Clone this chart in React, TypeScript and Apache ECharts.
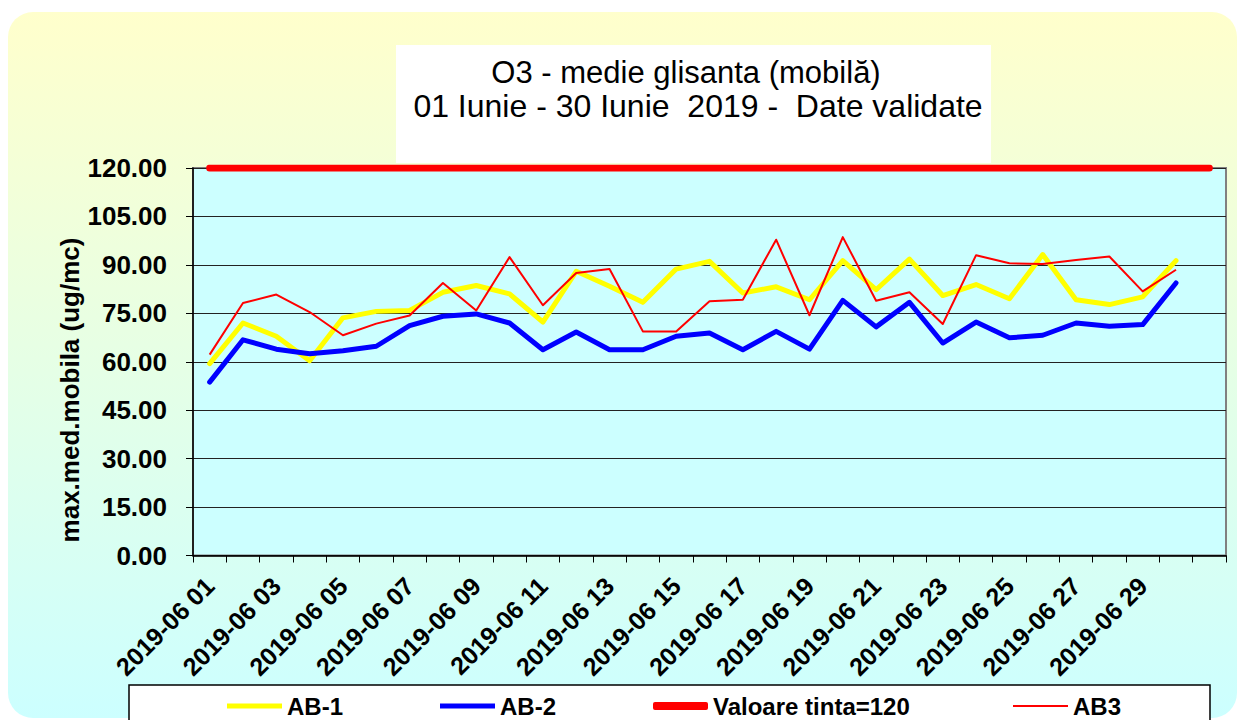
import React, { useEffect, useRef } from "react";
import * as echarts from "echarts";

const categories = [
  "2019-06 01", "2019-06 02", "2019-06 03", "2019-06 04", "2019-06 05",
  "2019-06 06", "2019-06 07", "2019-06 08", "2019-06 09", "2019-06 10",
  "2019-06 11", "2019-06 12", "2019-06 13", "2019-06 14", "2019-06 15",
  "2019-06 16", "2019-06 17", "2019-06 18", "2019-06 19", "2019-06 20",
  "2019-06 21", "2019-06 22", "2019-06 23", "2019-06 24", "2019-06 25",
  "2019-06 26", "2019-06 27", "2019-06 28", "2019-06 29", "2019-06 30",
  "",
];

const ab1 = [59.4, 72.0, 67.9, 60.3, 73.6, 75.6, 75.9, 81.5, 83.6, 81.0, 72.3, 88.0, 83.4, 78.4, 88.7, 91.1, 81.3, 83.2, 79.2, 91.3, 82.3, 91.8, 80.5, 83.9, 79.5, 93.2, 79.2, 77.7, 80.1, 91.3];
const ab2 = [53.7, 66.8, 63.9, 62.5, 63.4, 64.8, 71.2, 74.1, 74.8, 72.0, 63.7, 69.2, 63.7, 63.7, 67.9, 68.9, 63.7, 69.4, 63.9, 79.0, 70.8, 78.4, 65.8, 72.3, 67.4, 68.2, 72.0, 71.0, 71.5, 84.4];
const ab3 = [62.2, 78.2, 80.8, 75.4, 68.2, 71.8, 74.3, 84.4, 75.9, 92.4, 77.5, 87.5, 88.7, 69.4, 69.4, 78.7, 79.2, 97.8, 74.4, 98.6, 78.9, 81.5, 71.7, 93.0, 90.5, 90.3, 91.5, 92.6, 81.8, 88.5];
const target = [120, 120, 120, 120, 120, 120, 120, 120, 120, 120, 120, 120, 120, 120, 120, 120, 120, 120, 120, 120, 120, 120, 120, 120, 120, 120, 120, 120, 120, 120, 120];

const titleLine1 = "O3 - medie glisanta (mobilă)";
const titleLine2 = "01 Iunie - 30 Iunie  2019 -  Date validate";
const yAxisName = "max.med.mobila (ug/mc)";

const FONT = "'Liberation Sans', Arial, sans-serif";

export default function App() {
  const ref = useRef<HTMLDivElement>(null);
  useEffect(() => {
    if (!ref.current) return;
    const chart = echarts.init(ref.current, undefined, { renderer: "svg" });
    const legendText = { fontFamily: FONT, fontWeight: "bold" as const, fontSize: 24, color: "#000" };
    const mkLegend = (name: string, left: number, h: number, icon: string) => ({
      data: [name],
      left,
      top: 694,
      padding: 0,
      icon,
      itemWidth: 55,
      itemHeight: h,
      textStyle: legendText,
      selectedMode: false,
    });
    chart.setOption({
      animation: false,
      textStyle: { fontFamily: FONT },
      graphic: [
        {
          type: "rect",
          z: -10,
          shape: { x: 8, y: 12, width: 1229, height: 706, r: 25 },
          style: {
            fill: new echarts.graphic.LinearGradient(0, 0, 0, 1, [
              { offset: 0, color: "#ffffcc" },
              { offset: 1, color: "#ccffff" },
            ]),
          },
        },
        {
          type: "rect",
          z: -5,
          shape: { x: 396, y: 45, width: 595, height: 118 },
          style: { fill: "#ffffff" },
        },
        {
          type: "text",
          x: 686,
          y: 72,
          style: { text: titleLine1, font: `31px ${FONT}`, fill: "#000", textAlign: "center", textVerticalAlign: "middle" },
        },
        {
          type: "text",
          x: 698,
          y: 106,
          style: { text: titleLine2, font: `32px ${FONT}`, fill: "#000", textAlign: "center", textVerticalAlign: "middle" },
        },
        {
          type: "text",
          x: 70,
          y: 390,
          rotation: Math.PI / 2,
          style: { text: yAxisName, font: `bold 26px ${FONT}`, fill: "#000", textAlign: "center", textVerticalAlign: "middle" },
        },
        {
          type: "rect",
          z: -5,
          shape: { x: 129, y: 685, width: 1081, height: 50 },
          style: { fill: "#ffffff", stroke: "#000000", lineWidth: 1.5 },
        },
      ],
      legend: [
        mkLegend("AB-1", 227, 5, "rect"),
        mkLegend("AB-2", 440, 5, "rect"),
        mkLegend("Valoare tinta=120", 653, 8, "roundRect"),
        mkLegend("AB3", 1013, 2, "rect"),
      ],
      grid: {
        left: 193,
        top: 168,
        width: 1033,
        height: 387.5,
        show: true,
        backgroundColor: "#ccffff",
        borderColor: "#808080",
        borderWidth: 2,
        containLabel: false,
      },
      xAxis: {
        type: "category",
        data: categories,
        boundaryGap: true,
        axisLine: { show: true, lineStyle: { color: "#000", width: 1.5 } },
        axisTick: { show: true, interval: 0, length: 7, lineStyle: { color: "#000" } },
        axisLabel: {
          interval: 1,
          rotate: 45,
          margin: 26,
          fontFamily: FONT,
          fontWeight: "bold",
          fontSize: 25,
          color: "#000",
        },
        splitLine: { show: false },
      },
      yAxis: {
        type: "value",
        min: 0,
        max: 120,
        interval: 15,
        axisLine: { show: true, lineStyle: { color: "#000", width: 1.5 } },
        axisTick: { show: true, length: 7, lineStyle: { color: "#000" } },
        axisLabel: {
          margin: 26,
          fontFamily: FONT,
          fontWeight: "bold",
          fontSize: 26,
          color: "#000",
          formatter: (v: number) => v.toFixed(2),
        },
        splitLine: { show: true, lineStyle: { color: "#222", width: 1 } },
      },
      series: [
        {
          name: "AB-1",
          type: "line",
          data: ab1,
          symbol: "none",
          lineStyle: { color: "#ffff00", width: 5, cap: "round", join: "round" },
          itemStyle: { color: "#ffff00" },
        },
        {
          name: "AB-2",
          type: "line",
          data: ab2,
          symbol: "none",
          lineStyle: { color: "#0000ff", width: 5, cap: "round", join: "round" },
          itemStyle: { color: "#0000ff" },
        },
        {
          name: "Valoare tinta=120",
          type: "line",
          data: target,
          symbol: "none",
          lineStyle: { color: "#ff0000", width: 7, cap: "round", join: "round" },
          itemStyle: { color: "#ff0000" },
        },
        {
          name: "AB3",
          type: "line",
          data: ab3,
          symbol: "none",
          lineStyle: { color: "#ff0000", width: 2, join: "round" },
          itemStyle: { color: "#ff0000" },
        },
      ],
    });
    return () => chart.dispose();
  }, []);
  return (
    <div
      ref={ref}
      style={{ position: "fixed", left: 0, top: 0, width: 1238, height: 720, background: "#ffffff" }}
    />
  );
}
